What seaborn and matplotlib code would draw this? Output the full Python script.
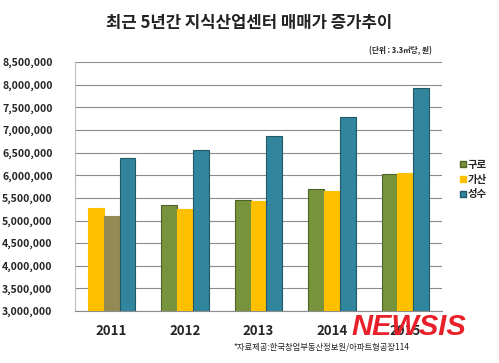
import pandas as pd
import seaborn as sns
import matplotlib.pyplot as plt
from matplotlib.ticker import FuncFormatter
from matplotlib.lines import Line2D

# -----------------------------
# Data (won per 3.3 m2)
# -----------------------------
years = ["2011", "2012", "2013", "2014", "2015"]
# bar slots left -> right inside each year group
slot1_values = [5280000, 5350000, 5460000, 5700000, 6030000]
slot2_values = [5090000, 5260000, 5430000, 5660000, 6050000]
slot3_values = [6380000, 6560000, 6870000, 7280000, 7930000]
# which region each slot shows (2011 is drawn in a different order)
slot1_regions = ["가산", "구로", "구로", "구로", "구로"]
slot2_regions = ["구로(2011)", "가산", "가산", "가산", "가산"]
slot3_regions = ["성수", "성수", "성수", "성수", "성수"]
legend_labels = ["구로", "가산", "성수"]

colors = {"구로": "#77933C", "가산": "#FFC000", "성수": "#31859C", "구로(2011)": "#948A54"}
edges = {"구로": "#4F6228", "가산": "#FFC000", "성수": "#215968", "구로(2011)": "#948A54"}

df = pd.DataFrame({
    "year": years * 3,
    "slot": ["s1"] * 5 + ["s2"] * 5 + ["s3"] * 5,
    "value": slot1_values + slot2_values + slot3_values,
    "region": slot1_regions + slot2_regions + slot3_regions,
})

# -----------------------------
# Plot
# -----------------------------
sns.set_style("white")
plt.rcParams["font.family"] = ["Noto Sans CJK KR", "DejaVu Sans"]

fig = plt.figure(figsize=(4.99, 3.63), dpi=100)
ax = fig.add_axes([0.150, 0.143, 0.736, 0.686])

sns.barplot(data=df, x="year", y="value", hue="slot", ax=ax,
            width=0.65, gap=0, legend=False, zorder=3)

for container, slot in zip(ax.containers, ["s1", "s2", "s3"]):
    regs = df[df["slot"] == slot]["region"].tolist()
    for bar, reg in zip(container.patches, regs):
        bar.set_facecolor(colors[reg])
        bar.set_edgecolor(edges[reg])
        bar.set_linewidth(0.8)

ax.set_ylim(3000000, 8500000)
ax.set_yticks(range(3000000, 8500001, 500000))
ax.yaxis.set_major_formatter(FuncFormatter(lambda v, p: f"{int(v):,}"))
ax.yaxis.grid(True, color="#8C8C8C", linewidth=0.8, zorder=0)
ax.set_axisbelow(True)
ax.set_xlabel("")
ax.set_ylabel("")

for s in ["top", "right"]:
    ax.spines[s].set_visible(False)
ax.spines["left"].set_color("#BFBFBF")
ax.spines["bottom"].set_color("#8C8C8C")
ax.tick_params(axis="y", length=4, color="#BFBFBF", labelsize=7.6, pad=12)
ax.tick_params(axis="x", length=0, labelsize=9.5, pad=9)
for lbl in ax.get_yticklabels() + ax.get_xticklabels():
    lbl.set_fontweight("bold")

# legend
handles = [Line2D([0], [0], marker="s", linestyle="", markersize=5,
                  markerfacecolor=colors[r], markeredgecolor=edges[r]) for r in legend_labels]
fig.legend(handles, legend_labels, loc="center left", bbox_to_anchor=(0.9, 0.505),
           frameon=False, handletextpad=0.1, labelspacing=0.45, handlelength=0.8,
           prop={"weight": "bold", "size": 7.5})

# texts
fig.text(0.50, 0.937, "최근 5년간 지식산업센터 매매가 증가추이", ha="center", va="center",
         fontsize=12, fontweight="bold", color="#222222")
fig.text(0.865, 0.862, "(단위 : 3.3㎡당, 원)", ha="right", va="center",
         fontsize=5.5, fontweight="bold", color="#222222")
fig.text(0.645, 0.045, "*자료제공:한국창업부동산정보원/아파트형공장114", ha="center", va="center",
         fontsize=6, color="#222222")
fig.text(0.82, 0.1, "NEWSIS", ha="center", va="center", fontsize=21, fontweight="heavy",
         fontstyle="italic", family=["Liberation Sans", "DejaVu Sans"], color="#E8202A", zorder=10)

fig.savefig("out.png", dpi=100)
